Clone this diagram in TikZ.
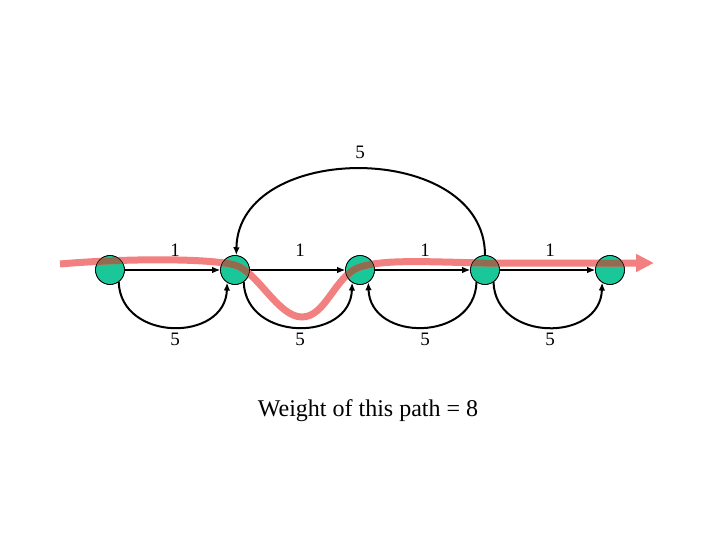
\documentclass[tikz,border=0pt]{standalone}
\usepackage{fontspec}
\setmainfont{Liberation Serif}
\usetikzlibrary{arrows.meta}
\definecolor{nodegreen}{RGB}{26,199,152}
\definecolor{pathred}{RGB}{242,128,128}
\definecolor{pathbrown}{RGB}{145,108,80}
\tikzset{
  vert/.style={circle, draw=black, line width=0.6pt, fill=nodegreen, minimum size=29pt, inner sep=0pt},
  hedge/.style={line width=1.3pt, -{Latex[length=8pt,width=6.5pt]}},
  arcedge/.style={line width=2pt, -{Latex[length=8pt,width=6.5pt]}},
  wlabel/.style={font=\fontsize{19}{21}\selectfont, inner sep=0pt},
  hl/.style={line width=7pt, line cap=butt}
}
\newcommand\hlpath{(60,264) .. controls (130,258) and (210,258.5) .. (235,265) .. controls (258,272) and (278,317) .. (302,317) .. controls (326,317) and (335,275) .. (360,267) .. controls (385,259) and (430,262) .. (485,263) -- (654,263)}
\begin{document}
\begin{tikzpicture}[x=1pt,y=-1pt]
\useasboundingbox (0,0) rectangle (720,540);
% vertices
\node[vert] (n1) at (110,270) {};
\node[vert] (n2) at (235,270) {};
\node[vert] (n3) at (360,270) {};
\node[vert] (n4) at (485,270) {};
\node[vert] (n5) at (610,270) {};
% horizontal edges
\draw[hedge] (n1) -- (n2);
\draw[hedge] (n2) -- (n3);
\draw[hedge] (n3) -- (n4);
\draw[hedge] (n4) -- (n5);
\node[wlabel] (h1) at (175,250) {1};
\node[wlabel] (h2) at (300,250) {1};
\node[wlabel] (h3) at (425,250) {1};
\node[wlabel] (h4) at (550,250) {1};
% lower arcs
\draw[arcedge] (n1.-54) .. controls +(2,60) and +(-2,60) .. (n2.-122);
\draw[arcedge] (n2.-54) .. controls +(2,60) and +(-2,60) .. (n3.-122);
\draw[arcedge] (n4.-125) .. controls +(-2,60) and +(2,60) .. (n3.-56);
\draw[arcedge] (n4.-55) .. controls +(2,60) and +(-2,60) .. (n5.-122);
\node[wlabel] (b1) at (175,339) {5};
\node[wlabel] (b2) at (300,339) {5};
\node[wlabel] (b3) at (425,339) {5};
\node[wlabel] (b4) at (550,339) {5};
% upper arc
\draw[arcedge] (n4.90) .. controls +(0,-115) and +(2,-115) .. (n2.85);
\node[wlabel] (t1) at (360,152) {5};
% highlighted path
\draw[hl, draw=pathred, fill=none, -{Triangle[length=18pt,width=17pt]}] \hlpath;
\foreach \n in {n1,n2,n3,n4,n5} {
  \begin{scope}
    \clip (\n.center) circle[radius=14.5pt];
    \draw[hl, draw=pathbrown] \hlpath;
  \end{scope}
  \draw[line width=0.6pt] (\n.center) circle[radius=14.5pt];
}
\node[font=\fontsize{24}{28}\selectfont, inner sep=0pt] (title) at (368,411) {Weight of this path = 8};
\end{tikzpicture}
\end{document}
